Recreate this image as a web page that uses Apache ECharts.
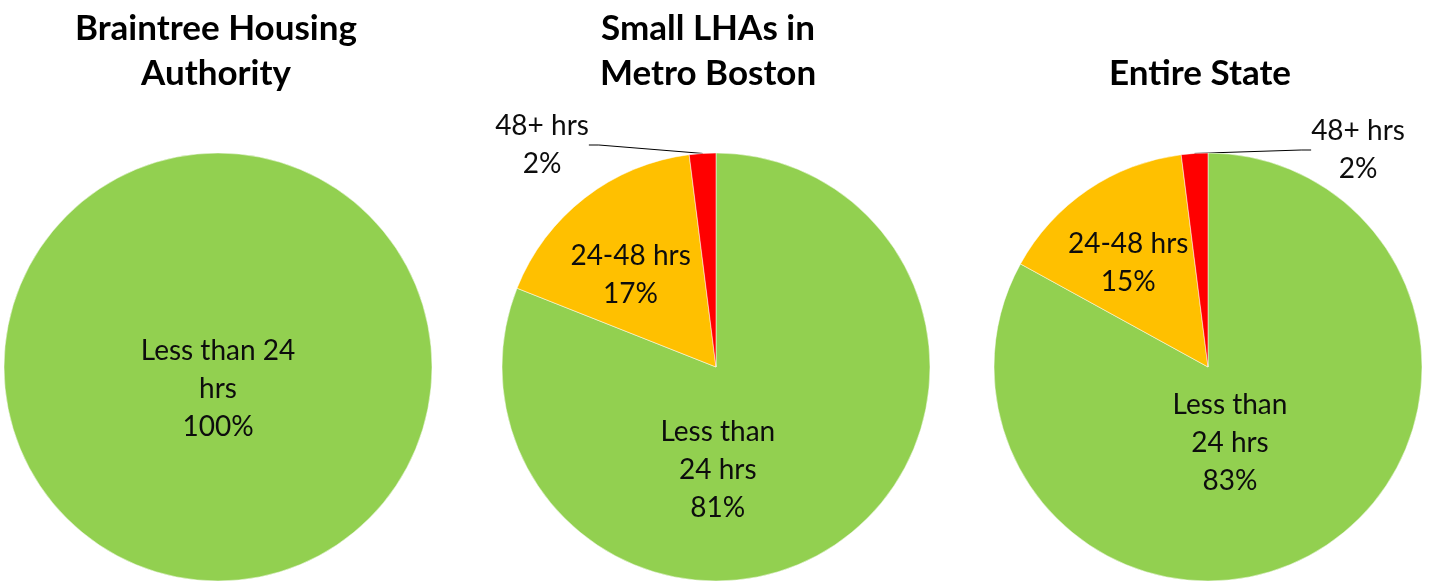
<!DOCTYPE html>
<html>
<head>
<meta charset="utf-8">
<script src="https://cdn.jsdelivr.net/npm/echarts@6/dist/echarts.min.js"></script>
<style>
  html, body { margin: 0; padding: 0; background: #fff; }
  #main { width: 1431px; height: 583px; }
</style>
</head>
<body>
<div id="main"></div>
<script>
// data
var categories = ['Less than 24 hrs', '24-48 hrs', '48+ hrs'];
var braintree = [100];
var smallLHAs = [81, 17, 2];
var entireState = [83, 15, 2];
var titles = ['Braintree Housing\nAuthority', 'Small LHAs in\nMetro Boston', 'Entire State'];
var colors = ['#92D050', '#FFC000', '#FF0000'];

var labelText = {
    'Less than 24 hrs': ['Less than 24\nhrs', 'Less than\n24 hrs', 'Less than\n24 hrs'],
    '24-48 hrs': ['24-48 hrs', '24-48 hrs', '24-48 hrs'],
    '48+ hrs': ['48+ hrs', '48+ hrs', '48+ hrs']
};

var centers = [[218, 367], [716, 367], [1208, 367]];
var titleX = [211, 703, 1195];
var radius = 214;
var font = 'Lato, "Open Sans", sans-serif';

// nudge of inside labels, per chart / slice
var nudges = [
    [[0, -88]],
    [[-60, 12], [-18, -5], null],
    [[-34, -19], [-18, -13], null]
];
// outside label spots for the small red slice
var outsideSpots = [null, [542, 145], [1358, 150]];

var myChart = echarts.init(document.getElementById('main'), null, { renderer: 'canvas' });

function makeSeries(values, idx) {
    return {
        type: 'pie',
        center: centers[idx],
        radius: radius,
        startAngle: 90,
        clockwise: true,
        silent: true,
        animation: false,
        avoidLabelOverlap: false,
        itemStyle: { borderColor: '#fff', borderWidth: 0.5 },
        label: {
            show: true,
            position: 'inside',
            color: '#0d0d0d',
            fontFamily: font,
            fontSize: 28,
            lineHeight: 38,
            align: 'center',
            formatter: function (p) {
                return labelText[p.name][idx] + '\n' + p.value + '%';
            }
        },
        labelLine: { show: false },
        labelLayout: function (p) {
            // red slice label sits outside, guide line redrawn by echarts
            if (p.dataIndex === 2 && outsideSpots[idx]) {
                return {
                    x: outsideSpots[idx][0],
                    y: outsideSpots[idx][1],
                    align: 'center',
                    verticalAlign: 'middle'
                };
            }
            var n = nudges[idx][p.dataIndex];
            if (n) {
                return { dx: n[0], dy: n[1] };
            }
            return {};
        },
        data: values.map(function (v, i) {
            var item = { name: categories[i], value: v, itemStyle: { color: colors[i] } };
            if (outsideSpots[idx] && i === 2) {
                item.label = { position: 'outside' };
                item.labelLine = { show: true, length: 10, length2: 10, lineStyle: { color: '#000', width: 1 } };
            }
            return item;
        })
    };
}

var option = {
    backgroundColor: '#fff',
    title: titles.map(function (t, i) {
        return {
            text: t,
            left: titleX[i],
            top: i === 2 ? 46 : 1,
            textAlign: 'center',
            textStyle: {
                fontFamily: font,
                fontWeight: 'bold',
                fontSize: 35,
                lineHeight: 45,
                color: '#000'
            }
        };
    }),
    series: [
        makeSeries(braintree, 0),
        makeSeries(smallLHAs, 1),
        makeSeries(entireState, 2)
    ]
};

myChart.setOption(option);
</script>
</body>
</html>
